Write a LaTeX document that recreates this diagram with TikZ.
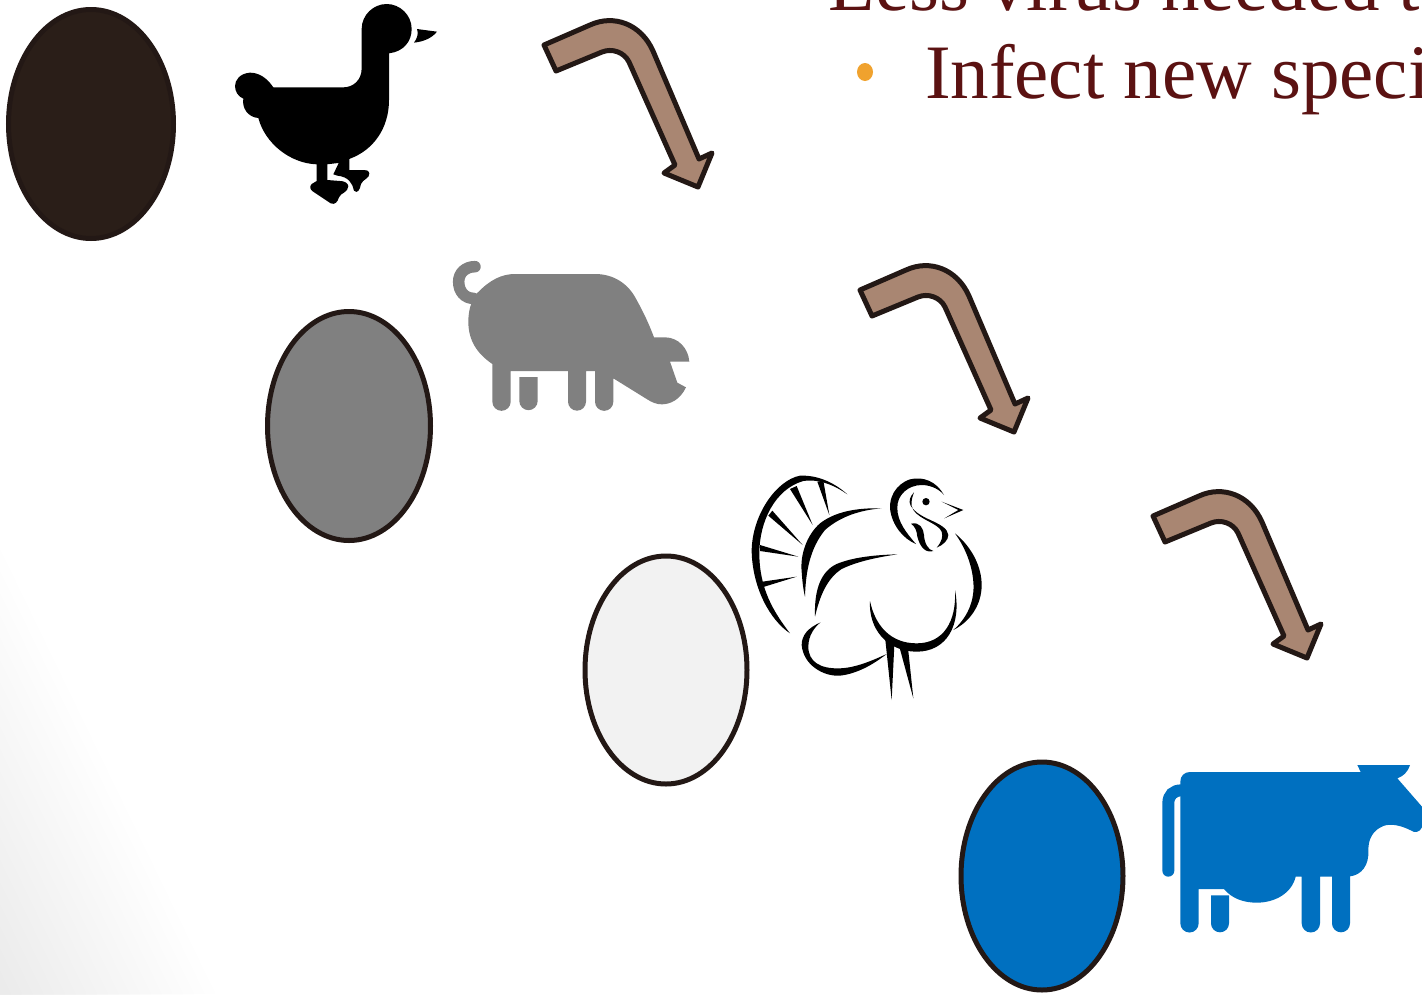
\documentclass[tikz,border=0pt]{standalone}
\usepackage{fontspec}
\setmainfont{Liberation Serif}
\definecolor{inkdark}{HTML}{231815}
\definecolor{eggdark}{HTML}{2A1E18}
\definecolor{arrowfill}{HTML}{A98672}
\definecolor{cowblue}{HTML}{0070C0}
\definecolor{piggray}{HTML}{808080}
\definecolor{eggpale}{HTML}{F2F2F2}
\definecolor{textred}{HTML}{5B1212}
\definecolor{bulletorange}{HTML}{F0A22E}
\tikzset{
  eggshape/.style={draw=inkdark,line width=5pt},
  bentarrow/.style={draw=inkdark,fill=arrowfill,line width=5pt,line join=round},
  slidetext/.style={anchor=base west,inner sep=0pt,outer sep=0pt,text=textred,font=\fontsize{77}{77}\selectfont},
  zoomed/.style={x=.33333pt,y=-.33333pt}
}
\newcommand{\bentpath}[2]{%
  \begin{scope}[shift={(#1,#2)}]
  \draw[bentarrow] (544,45) -- (556,71) -- (602,52)
    .. controls (612,48) and (624,52) .. (629,62)
    -- (675,165) -- (664,173) -- (698,187) -- (712,153) -- (699,159)
    -- (653,51) .. controls (641,24) and (614,14) .. (590,25) -- cycle;
  \end{scope}}
\begin{document}
\begin{tikzpicture}[x=1pt,y=-1pt]
\clip (0,0) rectangle (1422,994);
\fill[white] (0,0) rectangle (1422,994);
% corner shade
\foreach \s in {1,...,20}{
  \pgfmathsetmacro{\f}{1-(\s-1)/20}
  \pgfmathsetmacro{\g}{\s*0.4}
  \fill[black!\g!white] (0,{994-444*\f}) -- ({215*\f},994) -- (0,994) -- cycle;
}
% eggs
\draw[eggshape,fill=eggdark] (91,124) ellipse [x radius=82.5,y radius=114.5];
\draw[eggshape,fill=piggray] (349,426) ellipse [x radius=81.5,y radius=114.5];
\draw[eggshape,fill=eggpale] (666,670) ellipse [x radius=81,y radius=114];
\draw[eggshape,fill=cowblue] (1042,876) ellipse [x radius=81,y radius=114];
% arrows
\bentpath{0}{0}
\bentpath{316}{245}
\bentpath{609}{471}
% duck
\begin{scope}[shift={(220,0)},zoomed]
\fill[black] (507,160) .. controls (550,155) and (575,125) .. (575,87)
  .. controls (575,45) and (540,12) .. (500,12)
  .. controls (460,12) and (425,45) .. (425,87)
  -- (425,205) .. controls (425,240) and (400,262) .. (370,262)
  -- (160,262) .. controls (140,232) and (115,218) .. (90,218)
  .. controls (60,220) and (45,240) .. (45,258)
  .. controls (45,275) and (55,290) .. (70,296)
  .. controls (65,325) and (85,352) .. (115,354)
  .. controls (135,430) and (210,490) .. (290,493)
  -- (320,493) -- (355,489) -- (390,476)
  .. controls (460,450) and (507,385) .. (507,300) -- cycle;
\fill[black] (290,490) -- (290,543) -- (275,552)
  .. controls (268,560) and (270,568) .. (278,574)
  -- (332,610) .. controls (345,615) and (352,607) .. (357,592)
  .. controls (362,578) and (385,578) .. (385,558)
  .. controls (383,548) and (372,543) .. (360,543)
  -- (322,540) -- (322,490) -- cycle;
\fill[black] (358,485) -- (340,523) -- (352,527)
  .. controls (385,530) and (398,550) .. (402,572)
  .. controls (412,582) and (420,570) .. (423,552)
  .. controls (428,538) and (450,535) .. (448,520)
  .. controls (445,510) and (438,510) .. (430,510)
  -- (388,510) -- (388,470) -- cycle;
\fill[black] (591,87) -- (651,95) .. controls (635,115) and (610,125) .. (582,128)
  .. controls (592,115) and (596,100) .. (591,87) -- cycle;
\end{scope}
% pig
\begin{scope}[shift={(440,250)},zoomed]
\draw[piggray,line width=11.5pt,line cap=round] (105,50)
  .. controls (75,50) and (56,70) .. (56,95)
  .. controls (56,125) and (75,145) .. (100,145);
\fill[piggray] (115,126) .. controls (150,90) and (185,72) .. (225,72)
  -- (465,72) .. controls (520,72) and (565,100) .. (590,150)
  .. controls (615,195) and (630,230) .. (642,262)
  -- (675,262) .. controls (715,262) and (745,295) .. (748,335)
  -- (690,335) -- (712,398) -- (738,412)
  .. controls (720,450) and (690,463) .. (665,463)
  .. controls (650,463) and (635,457) .. (620,447)
  -- (520,385) -- (520,455) arc [start angle=0,end angle=180,radius=27.5]
  -- (465,363) -- (438,363) -- (438,455) arc [start angle=0,end angle=180,radius=27]
  -- (384,363) -- (212,363) -- (212,455) arc [start angle=0,end angle=180,radius=27.5]
  -- (157,342) .. controls (110,310) and (85,270) .. (85,215)
  .. controls (85,195) and (88,175) .. (95,158) -- (110,130) -- cycle;
\fill[piggray] (238,381) -- (293,381) -- (293,453) arc [start angle=0,end angle=180,radius=27.5] -- cycle;
\end{scope}
% turkey
\begin{scope}[shift={(740,465)},zoomed]
\fill[black] (322,88) .. controls (280,50) and (230,30) .. (180,32)
  .. controls (110,45) and (35,150) .. (35,260)
  .. controls (38,370) and (90,465) .. (150,505)
  .. controls (100,440) and (58,370) .. (58,265)
  .. controls (58,170) and (105,72) .. (190,48)
  .. controls (240,40) and (290,65) .. (322,88) -- cycle;
\fill[black] (150,72) -- (170,63) -- (218,180) -- cycle;
\fill[black] (232,50) -- (250,47) -- (268,150) -- cycle;
\fill[black] (85,152) -- (97,137) -- (188,240) -- cycle;
\fill[black] (60,240) -- (60,258) -- (175,275) -- cycle;
\fill[black] (67,350) -- (70,366) -- (170,335) -- cycle;
\fill[black] (425,130) .. controls (350,128) and (285,140) .. (240,175)
  .. controls (200,210) and (180,270) .. (185,320)
  .. controls (187,350) and (190,375) .. (195,395)
  .. controls (197,320) and (210,250) .. (255,195)
  .. controls (300,155) and (360,135) .. (425,130) -- cycle;
\fill[black] (472,268) .. controls (390,270) and (330,280) .. (290,297)
  .. controls (245,318) and (222,370) .. (225,455)
  .. controls (240,390) and (262,340) .. (305,312)
  .. controls (350,290) and (410,277) .. (472,268) -- cycle;
\fill[black] (242,472) .. controls (205,488) and (185,510) .. (185,540)
  .. controls (190,600) and (250,635) .. (300,632)
  .. controls (360,625) and (410,590) .. (440,567)
  .. controls (400,585) and (350,608) .. (300,610)
  .. controls (240,612) and (205,590) .. (205,545)
  .. controls (205,510) and (225,485) .. (242,472) -- cycle;
\fill[black] (390,408) .. controls (385,490) and (440,560) .. (530,560)
  .. controls (620,560) and (665,480) .. (645,375)
  .. controls (650,470) and (610,535) .. (530,535)
  .. controls (450,535) and (405,480) .. (390,408) -- cycle;
\fill[black] (645,205) .. controls (700,250) and (725,310) .. (725,360)
  .. controls (725,420) and (690,470) .. (640,495)
  .. controls (680,460) and (705,410) .. (700,350)
  .. controls (695,290) and (670,240) .. (645,205) -- cycle;
\fill[black] (435,515) -- (455,705) -- (463,540) -- cycle;
\fill[black] (478,545) -- (520,700) -- (505,558) -- cycle;
\fill[black] (612,90) .. controls (590,50) and (550,33) .. (510,43)
  .. controls (465,58) and (448,100) .. (450,130)
  .. controls (455,180) and (490,222) .. (528,237)
  .. controls (500,205) and (472,170) .. (472,130)
  .. controls (470,90) and (505,60) .. (545,60)
  .. controls (575,60) and (600,75) .. (612,90) -- cycle;
\fill[black] (558,110) circle [radius=11];
\fill[black] (605,110) -- (670,135) -- (613,160) -- (655,135) -- cycle;
\fill[black] (522,82) .. controls (495,110) and (510,135) .. (560,160)
  .. controls (605,180) and (622,190) .. (625,210)
  .. controls (625,225) and (610,240) .. (590,248)
  .. controls (605,230) and (610,215) .. (605,200)
  .. controls (595,175) and (540,165) .. (520,135)
  .. controls (510,120) and (515,100) .. (522,82) -- cycle;
\fill[black] (513,176) .. controls (540,170) and (550,190) .. (552,210)
  .. controls (553,235) and (565,255) .. (580,258)
  .. controls (555,265) and (540,245) .. (532,215)
  .. controls (530,195) and (525,185) .. (513,176) -- cycle;
\end{scope}
% cow
\begin{scope}[shift={(1150,750)},zoomed]
\draw[cowblue,line width=12pt,line cap=round] (55,362) -- (55,160) .. controls (55,135) and (70,121) .. (95,121);
\fill[cowblue] (120,66) -- (632,66) -- (622,45) -- (780,45)
  .. controls (772,68) and (760,78) .. (742,85)
  -- (816,170) -- (840,200) -- (816,232)
  .. controls (808,248) and (795,250) .. (780,240)
  .. controls (750,225) and (720,220) .. (700,228)
  .. controls (670,240) and (655,265) .. (655,300)
  .. controls (658,345) and (635,375) .. (600,379)
  -- (600,520) arc [start angle=0,end angle=180,radius=27]
  -- (546,380) -- (510,380) -- (510,520) arc [start angle=0,end angle=180,radius=27.5]
  -- (455,380) -- (437,380)
  .. controls (425,430) and (375,458) .. (320,458)
  .. controls (280,458) and (245,445) .. (222,417)
  -- (146,417) -- (146,520) arc [start angle=0,end angle=180,radius=27.5]
  -- (91,95) .. controls (91,78) and (103,66) .. (120,66) -- cycle;
\fill[cowblue] (183,436) -- (237,436) -- (237,520) arc [start angle=0,end angle=180,radius=27] -- cycle;
\end{scope}
% text
\fill[bulletorange] (865,72) ellipse [x radius=8,y radius=9];
\node[slidetext] (lessline) at (828,10) {Less virus needed t};
\node[slidetext] (infectline) at (925,98) {Infect new speci};
\end{tikzpicture}
\end{document}
